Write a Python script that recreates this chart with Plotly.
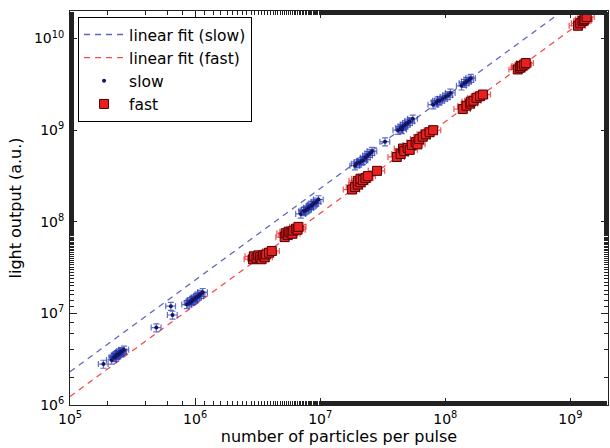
import numpy as np
import plotly.graph_objects as go

# Light output vs. beam intensity, slow and fast scintillator components
slow_n = [1.85e5,
          2.15e5, 2.25e5, 2.3e5, 2.35e5, 2.4e5, 2.45e5, 2.5e5, 2.55e5, 2.6e5, 2.7e5,
          4.9e5, 6.4e5, 6.6e5,
          8.6e5, 9.0e5, 9.3e5, 9.5e5, 9.6e5, 1.0e6, 1.03e6, 1.07e6, 1.1e6, 1.15e6,
          7.0e6, 7.4e6, 7.6e6, 7.8e6, 8.1e6, 8.5e6, 8.7e6, 8.9e6, 9.3e6, 9.7e6,
          1.9e7, 1.95e7, 2.05e7, 2.15e7, 2.2e7, 2.3e7, 2.4e7, 2.5e7, 2.6e7,
          3.3e7,
          4.2e7, 4.4e7, 4.5e7, 4.6e7, 4.8e7, 5.0e7, 5.2e7, 5.5e7,
          8.0e7, 8.5e7, 8.7e7, 9.0e7, 9.5e7, 1.0e8, 1.05e8, 1.1e8,
          1.35e8, 1.42e8, 1.48e8, 1.55e8, 1.6e8]
slow_light = [2.8e6,
              3.1e6, 3.3e6, 3.35e6, 3.5e6, 3.55e6, 3.6e6, 3.7e6, 3.8e6, 3.85e6, 4.0e6,
              7.0e6, 1.2e7, 9.6e6,
              1.25e7, 1.3e7, 1.35e7, 1.38e7, 1.4e7, 1.45e7, 1.5e7, 1.55e7, 1.62e7, 1.7e7,
              1.22e8, 1.3e8, 1.33e8, 1.36e8, 1.42e8, 1.5e8, 1.53e8, 1.58e8, 1.65e8, 1.75e8,
              4.1e8, 4.3e8, 4.4e8, 4.6e8, 4.7e8, 5.0e8, 5.3e8, 5.6e8, 5.9e8,
              7.5e8,
              1.0e9, 1.05e9, 1.02e9, 1.1e9, 1.15e9, 1.2e9, 1.25e9, 1.33e9,
              1.9e9, 2.0e9, 2.1e9, 2.1e9, 2.2e9, 2.3e9, 2.4e9, 2.55e9,
              3.05e9, 3.25e9, 3.4e9, 3.55e9, 3.7e9]

fast_n = [2.9e6, 2.95e6, 3.1e6, 3.2e6, 3.3e6, 3.4e6, 3.5e6, 3.6e6, 3.7e6, 3.9e6, 4.1e6,
          5.2e6, 5.3e6, 5.5e6, 5.6e6, 5.8e6, 6.0e6, 6.1e6, 6.4e6, 6.6e6, 6.7e6,
          1.8e7, 1.9e7, 2.0e7, 2.0e7, 2.1e7, 2.1e7, 2.2e7, 2.3e7, 2.4e7,
          2.85e7,
          4.1e7, 4.4e7, 4.6e7, 4.7e7, 5.0e7, 5.2e7, 5.4e7, 5.8e7, 6.0e7, 6.2e7, 6.6e7,
          7.0e7, 7.5e7, 8.0e7,
          1.38e8, 1.48e8, 1.58e8, 1.6e8, 1.68e8, 1.78e8, 1.9e8, 2.0e8,
          3.8e8, 3.95e8, 4.0e8, 4.1e8, 4.25e8, 4.4e8,
          1.15e9, 1.2e9, 1.25e9, 1.28e9, 1.3e9, 1.35e9]
fast_light = [3.9e7, 4.2e7, 4.0e7, 4.3e7, 4.1e7, 3.9e7, 4.3e7, 4.1e7, 4.4e7, 4.6e7, 4.8e7,
              6.8e7, 7.5e7, 7.2e7, 7.8e7, 7.6e7, 7.4e7, 8.0e7, 8.4e7, 8.2e7, 8.8e7,
              2.25e8, 2.4e8, 2.55e8, 2.8e8, 2.7e8, 2.95e8, 2.85e8, 3.0e8, 3.15e8,
              3.6e8,
              5.1e8, 5.5e8, 6.3e8, 5.9e8, 6.4e8, 6.1e8, 6.9e8, 7.4e8, 7.0e8, 8.0e8, 8.5e8,
              9.0e8, 9.5e8, 1.0e9,
              1.7e9, 1.85e9, 1.95e9, 2.05e9, 2.1e9, 2.25e9, 2.35e9, 2.45e9,
              4.6e9, 4.8e9, 5.0e9, 5.0e9, 5.2e9, 5.4e9,
              1.38e10, 1.47e10, 1.55e10, 1.58e10, 1.63e10, 1.72e10]

# relative uncertainties (percent)
slow_err_x, slow_err_y = 9, 10
fast_err_x, fast_err_y = 15, 9

x_range = [1e5, 2e9]
y_range = [1e6, 2e10]
x_ticks = [1e5, 1e6, 1e7, 1e8, 1e9]
x_ticktext = ["10<sup>5</sup>", "10<sup>6</sup>", "10<sup>7</sup>", "10<sup>8</sup>", "10<sup>9</sup>"]
y_ticks = [1e6, 1e7, 1e8, 1e9, 1e10]
y_ticktext = ["10<sup>6</sup>", "10<sup>7</sup>", "10<sup>8</sup>", "10<sup>9</sup>", "10<sup>10</sup>"]


def fit_through_origin(x, y):
    x = np.asarray(x)
    y = np.asarray(y)
    return float(np.sum(x * y) / np.sum(x * x))


k_slow = fit_through_origin(slow_n, slow_light)
k_fast = fit_through_origin(fast_n, fast_light)
x_line = np.array(x_range)

fig = go.Figure()

fig.add_trace(go.Scatter(
    x=x_line, y=k_slow * x_line, mode="lines", name="linear fit (slow)",
    line=dict(color="rgba(40,50,170,0.75)", width=1.3, dash="6px,5px"),
))
fig.add_trace(go.Scatter(
    x=x_line, y=k_fast * x_line, mode="lines", name="linear fit (fast)",
    line=dict(color="rgba(240,30,30,0.8)", width=1.3, dash="6px,5px"),
))
fig.add_trace(go.Scatter(
    x=slow_n, y=slow_light, mode="markers", name="slow",
    marker=dict(symbol="circle", size=4, color="#141460",
                line=dict(color="#141460", width=0)),
    error_x=dict(type="percent", value=slow_err_x, color="rgba(30,50,175,0.7)",
                 thickness=1.2, width=3),
    error_y=dict(type="percent", value=slow_err_y, color="rgba(30,50,175,0.7)",
                 thickness=1.2, width=3),
))
fig.add_trace(go.Scatter(
    x=fast_n, y=fast_light, mode="markers", name="fast",
    marker=dict(symbol="square", size=9, color="#e82020",
                line=dict(color="#4a0000", width=1)),
    error_x=dict(type="percent", value=fast_err_x, color="rgba(240,30,30,0.75)",
                 thickness=1.2, width=3),
    error_y=dict(type="percent", value=fast_err_y, color="rgba(240,30,30,0.75)",
                 thickness=1.2, width=3),
))

axis_common = dict(
    type="log", showgrid=False, zeroline=False, automargin=False,
    showline=True, linecolor="#222222", linewidth=1, mirror="ticks",
    ticks="inside", ticklen=7, tickcolor="#222222", tickwidth=1,
    minor=dict(ticks="inside", ticklen=4, tickcolor="#222222", tickwidth=1, showgrid=False),
    tickfont=dict(family="DejaVu Sans", size=14, color="black"),
)

fig.update_xaxes(
    range=[np.log10(x_range[0]), np.log10(x_range[1])],
    tickvals=x_ticks, ticktext=x_ticktext, ticklabelstandoff=1,
    title=dict(text="number of particles per pulse",
               font=dict(family="DejaVu Sans", size=16, color="black"), standoff=4),
    **axis_common,
)
fig.update_yaxes(
    range=[np.log10(y_range[0]), np.log10(y_range[1])],
    tickvals=y_ticks, ticktext=y_ticktext, ticklabelstandoff=2,
    title=dict(text="light output (a.u.)",
               font=dict(family="DejaVu Sans", size=16, color="black"), standoff=8),
    **axis_common,
)

fig.update_layout(
    width=610, height=448,
    margin=dict(l=70, r=2, t=11, b=43),
    plot_bgcolor="white", paper_bgcolor="white",
    font=dict(family="DejaVu Sans", color="black"),
    showlegend=True,
    legend=dict(
        x=0.015, y=0.985, xanchor="left", yanchor="top",
        bgcolor="white", bordercolor="black", borderwidth=1,
        font=dict(family="DejaVu Sans", size=15.5, color="black"),
        tracegroupgap=0, itemwidth=40,
    ),
)

fig.write_html("out.html")
